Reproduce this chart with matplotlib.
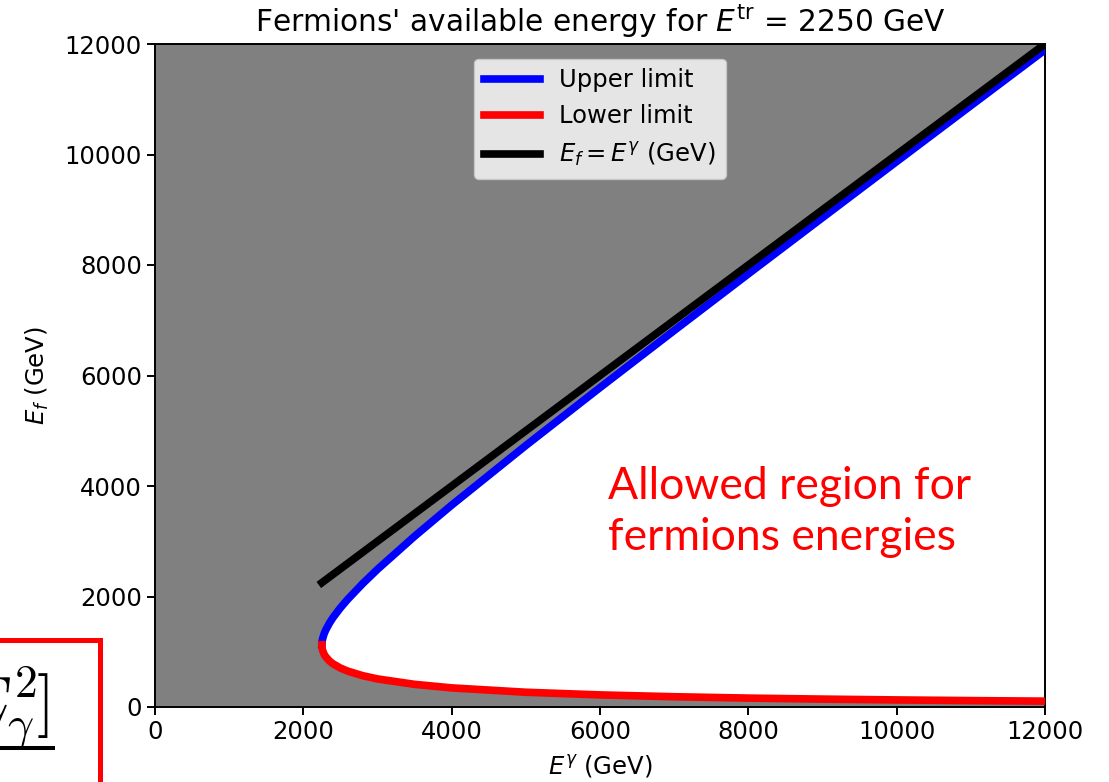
# Imports
from matplotlib import pyplot as plt
from matplotlib.patches import Rectangle
from matplotlib.lines import Line2D

# Data (GeV)
E_gamma = [2250, 2252, 2255, 2260, 2280, 2300, 2350, 2400, 2500, 2600, 2800, 3000,
           3500, 4000, 5000, 6000, 7000, 8000, 9000, 10000, 11000, 12000]
upper = [1125, 1172, 1200, 1236, 1324, 1388, 1514, 1618, 1795, 1951, 2233, 2492,
         3090, 3654, 4733, 5781, 6814, 7839, 8857, 9872, 10884, 11894]
lower = [1125, 1078, 1050, 1024, 956, 912, 836, 782, 705, 649, 567, 508,
         410, 346, 267, 219, 186, 161, 143, 128, 116, 106]
diag_x = [2250, 12000]
diag_y = [2250, 12000]

plt.rcParams['mathtext.fontset'] = 'dejavusans'
fs = 17.5

# Dimensions
fig = plt.figure(figsize=(11.09, 7.82), dpi=100)
ax = fig.add_axes([155/1109, 75/782, 890/1109, 663/782])
ax.set_facecolor('gray')

# Plotting
ax.fill_between(E_gamma, lower, upper, color='white', zorder=1)
ax.plot(E_gamma, upper, color='blue', lw=5.5, label='Upper limit', zorder=3)
ax.plot(E_gamma, lower, color='red', lw=5.5, label='Lower limit', zorder=3)
ax.plot(diag_x, diag_y, color='black', lw=5.5, label=r'$E_f = E^{\gamma}$ (GeV)', zorder=4)

ax.set_xlim(0, 12000)
ax.set_ylim(0, 12000)
ax.set_xticks(range(0, 12001, 2000))
ax.set_yticks(range(0, 12001, 2000))
ax.tick_params(labelsize=fs, length=6, width=1.4)
for s in ax.spines.values():
    s.set_linewidth(1.4)

# Naming
ax.set_title(r"Fermions' available energy for $E^{\rm tr}$ = 2250 GeV", fontsize=21.3, pad=9)
ax.set_xlabel(r'$E^{\gamma}$ (GeV)', fontsize=fs, labelpad=6)
ax.set_ylabel(r'$E_f$ (GeV)', fontsize=fs, labelpad=10)
ax.legend(loc='upper center', fontsize=fs, handlelength=2.3, borderaxespad=0.6)

ax.text(0.509, 0.294, 'Allowed region for\nfermions energies', transform=ax.transAxes,
        color='red', fontsize=32, family='Lato', ha='left', va='center', linespacing=1.3)

# Fragment of the slide at bottom-left
fig.patches.append(Rectangle((-20/1109, -20/782), 120/1109, 162/782, fill=False,
                             edgecolor='red', lw=3.6, transform=fig.transFigure))
fig.text(37/1109, 60/782, r'$E_\gamma^2$', fontsize=47, math_fontfamily='cm',
         ha='right', va='baseline')
fig.text(48/1109, 60/782, r'$]$', fontsize=47, math_fontfamily='cm',
         ha='right', va='baseline')
fig.lines.append(Line2D([-5/1109, 53/1109], [34/782, 34/782], color='black', lw=2.9,
                        transform=fig.transFigure))

# Output
fig.savefig('out.png', dpi=100)
